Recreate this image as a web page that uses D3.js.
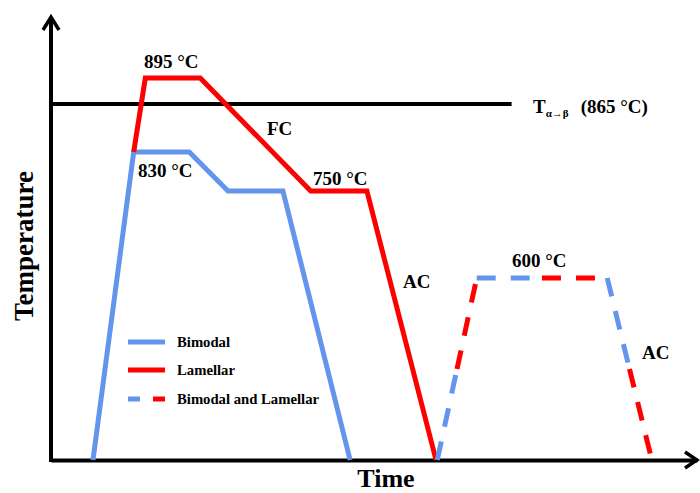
<!DOCTYPE html>
<html>
<head>
<meta charset="utf-8">
<script src="https://cdn.jsdelivr.net/npm/d3@7"></script>
<style>
  html, body { margin: 0; padding: 0; background: #fff; }
  svg { display: block; }
  text { font-family: "Liberation Serif", "Times New Roman", serif; font-weight: bold; fill: #000; }
</style>
</head>
<body>
<svg id="chart" width="700" height="493"></svg>
<script>
// Heat-treatment schedule (schematic): time in arbitrary units, temperature in °C
const ROOM = 25;
const bimodalTime  = [6.5, 12.8, 21.4, 27.4, 35.9, 46.3];
const bimodalTemp  = [ROOM, 830, 830, 750, 750, ROOM];
const lamellarTime = [12.8, 14.6, 23.1, 40.2, 48.9, 59.6];
const lamellarTemp = [830, 895, 895, 750, 750, ROOM];
const agingTime    = [59.8, 65.9, 86.1, 93.0];
const agingTemp    = [ROOM, 600, 600, ROOM];

const transusTemp = 865;
const transusEnd = 71.3;   // time where the transus line stops

const stepLabels = ["895 °C", "830 °C", "FC", "750 °C", "AC", "600 °C", "AC"];
const legendLabels = ["Bimodal", "Lamellar", "Bimodal and Lamellar"];

const BLUE = "#6495ed", RED = "#ff0000";

const svg = d3.select("#chart");

// Schematic (non-linear) temperature axis: piecewise-linear scale
const x = d3.scaleLinear().domain([0, 100]).range([51, 697]);
const y = d3.scaleLinear()
  .domain([ROOM, 600, 750, 830, 865, 895])
  .range([460, 278, 191, 152, 104, 78]);

const line = d3.line().x(d => x(d[0])).y(d => y(d[1]));
const zip = (t, v) => t.map((d, i) => [d, v[i]]);

// ---- axes with open arrow heads ----
const axes = svg.append("g").attr("stroke", "#000").attr("stroke-width", 4).attr("fill", "none");
const xAxis = d3.axisBottom(x).ticks(0).tickSizeOuter(0);
svg.append("g").attr("transform", `translate(0,${y(ROOM)})`).call(xAxis)
  .call(g => g.select(".domain").attr("stroke", "#000").attr("stroke-width", 4));
axes.append("line").attr("x1", x(0)).attr("x2", x(0)).attr("y1", y(ROOM) + 2).attr("y2", 17);
axes.append("path").attr("d", `M${x(0) - 8},30 L${x(0)},17 L${x(0) + 8},30`).attr("stroke-width", 3.5);
axes.append("path").attr("d", `M${x(100) - 12},${y(ROOM) - 8} L${x(100)},${y(ROOM)} L${x(100) - 12},${y(ROOM) + 8}`).attr("stroke-width", 3.5);

// ---- beta-transus line ----
svg.append("line")
  .attr("x1", x(0)).attr("x2", x(transusEnd))
  .attr("y1", y(transusTemp)).attr("y2", y(transusTemp))
  .attr("stroke", "#000").attr("stroke-width", 4);

const tl = svg.append("text").attr("x", 533).attr("y", 113).attr("font-size", 19);
tl.append("tspan").text("T");
tl.append("tspan").attr("font-size", 11).attr("dy", 4).text("α→β");
tl.append("tspan").attr("dy", -4).attr("dx", 12).text("(865 °C)");

// ---- schedules ----
svg.append("path").datum(zip(bimodalTime, bimodalTemp))
  .attr("d", line).attr("fill", "none").attr("stroke", BLUE).attr("stroke-width", 5);
svg.append("path").datum(zip(lamellarTime, lamellarTemp))
  .attr("d", line).attr("fill", "none").attr("stroke", RED).attr("stroke-width", 5);

// Common aging step: each leg is dashed, first half blue, second half red
const aging = zip(agingTime, agingTemp);
for (let i = 0; i < aging.length - 1; i++) {
  const a = aging[i], b = aging[i + 1];
  const m = d3.interpolate(a, b)(0.5);
  [[a, m, BLUE], [m, b, RED]].forEach(([p, q, c]) => {
    svg.append("path").datum([p, q]).attr("d", line)
      .attr("fill", "none").attr("stroke", c).attr("stroke-width", 5)
      .attr("stroke-dasharray", "19,15");
  });
}

// ---- step annotations ----
const labelPos = [[144, 68], [138, 177], [267, 135], [313, 185], [403, 288], [512, 267], [642, 359]];
svg.selectAll("text.step").data(stepLabels).join("text")
  .attr("class", "step")
  .attr("x", (d, i) => labelPos[i][0]).attr("y", (d, i) => labelPos[i][1])
  .attr("font-size", 19).text(d => d);

// ---- axis titles ----
svg.append("text").attr("x", 386).attr("y", 487).attr("text-anchor", "middle")
  .attr("font-size", 26).text("Time");
svg.append("text").attr("transform", "translate(33,246) rotate(-90)").attr("text-anchor", "middle")
  .attr("font-size", 27).text("Temperature");

// ---- legend ----
const legY = [342, 370, 399];
const lg = svg.append("g");
legendLabels.forEach((name, i) => {
  const yy = legY[i];
  if (i === 0) lg.append("line").attr("x1", 128).attr("x2", 165).attr("y1", yy).attr("y2", yy).attr("stroke", BLUE).attr("stroke-width", 5);
  if (i === 1) lg.append("line").attr("x1", 128).attr("x2", 165).attr("y1", yy).attr("y2", yy).attr("stroke", RED).attr("stroke-width", 5);
  if (i === 2) {
    lg.append("line").attr("x1", 128).attr("x2", 140).attr("y1", yy).attr("y2", yy).attr("stroke", BLUE).attr("stroke-width", 5);
    lg.append("line").attr("x1", 153).attr("x2", 165).attr("y1", yy).attr("y2", yy).attr("stroke", RED).attr("stroke-width", 5);
  }
  lg.append("text").attr("x", 177).attr("y", yy + 5).attr("font-size", 14.7).text(name);
});
</script>
</body>
</html>
